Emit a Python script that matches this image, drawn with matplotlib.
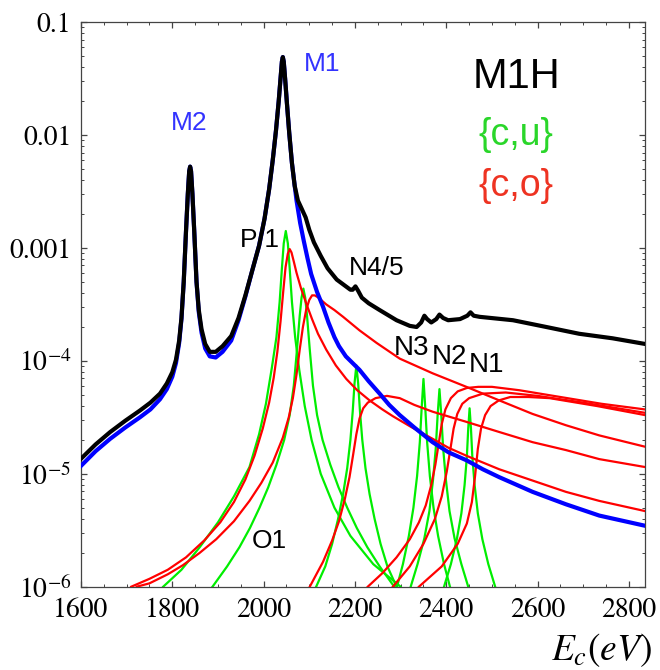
import numpy as np
import matplotlib.pyplot as plt
from matplotlib.ticker import MultipleLocator, LogLocator, NullFormatter

plt.rcParams['mathtext.fontset'] = 'stix'
plt.rcParams['font.family'] = ['Liberation Sans', 'DejaVu Sans']

# curves: energy (eV) and log10 of the rate

# total (black)
tot_e = [1600, 1632, 1664, 1697, 1729, 1752, 1773, 1788, 1800, 1808, 1815, 1820, 1825, 1830,
         1834, 1837, 1839, 1841, 1844, 1848, 1853, 1858, 1864, 1872, 1882, 1895, 1910, 1929,
         1945, 1960, 1975, 1990, 2002, 2012, 2020, 2027, 2033, 2037, 2040, 2042, 2044, 2047,
         2051, 2056, 2062, 2068, 2075, 2083, 2092, 2100, 2110, 2125, 2140, 2160, 2180, 2190,
         2195, 2201, 2207, 2215, 2230, 2254, 2291, 2320, 2335, 2345, 2352, 2358, 2367, 2378,
         2385, 2393, 2404, 2430, 2446, 2453, 2460, 2473, 2546, 2619, 2691, 2764, 2835]
tot_l = [-4.867, -4.74, -4.63, -4.53, -4.44, -4.37, -4.29, -4.20, -4.10, -3.99, -3.82, -3.62,
         -3.30, -2.85, -2.52, -2.32, -2.28, -2.32, -2.52, -2.85, -3.30, -3.55, -3.72, -3.85,
         -3.92, -3.92, -3.87, -3.78, -3.62, -3.42, -3.20, -2.98, -2.74, -2.48, -2.22, -1.96,
         -1.70, -1.50, -1.35, -1.31, -1.35, -1.50, -1.72, -1.98, -2.25, -2.45, -2.58, -2.65,
         -2.73, -2.84, -2.95, -3.07, -3.18, -3.28, -3.34, -3.37, -3.37, -3.34, -3.38, -3.44,
         -3.49, -3.55, -3.64, -3.69, -3.70, -3.66, -3.60, -3.63, -3.66, -3.63, -3.59, -3.62,
         -3.64, -3.63, -3.60, -3.57, -3.60, -3.61, -3.64, -3.70, -3.76, -3.80, -3.85]

# M1 + M2 only (blue)
m_e = [1600, 1632, 1664, 1697, 1729, 1752, 1773, 1788, 1800, 1808, 1815, 1820, 1825, 1830,
       1834, 1837, 1839, 1841, 1844, 1848, 1853, 1858, 1864, 1872, 1882, 1895, 1910, 1929,
       1945, 1960, 1975, 1990, 2002, 2012, 2020, 2027, 2033, 2037, 2040, 2042, 2044, 2047,
       2051, 2056, 2062, 2068, 2072, 2080, 2088, 2096, 2104, 2117, 2130, 2142, 2155, 2165,
       2180, 2195, 2210, 2230, 2254, 2275, 2298, 2330, 2370, 2405, 2444, 2480, 2516, 2589,
       2662, 2735, 2835]
m_l = [-4.93, -4.80, -4.69, -4.59, -4.50, -4.43, -4.34, -4.25, -4.14, -4.02, -3.84, -3.63,
       -3.30, -2.85, -2.52, -2.32, -2.28, -2.32, -2.52, -2.85, -3.30, -3.57, -3.75, -3.89,
       -3.96, -3.97, -3.92, -3.82, -3.64, -3.43, -3.20, -2.98, -2.74, -2.48, -2.22, -1.96,
       -1.70, -1.50, -1.35, -1.31, -1.35, -1.50, -1.72, -1.98, -2.25, -2.45, -2.58, -2.78,
       -2.94, -3.09, -3.23, -3.39, -3.52, -3.66, -3.79, -3.87, -3.96, -4.02, -4.08, -4.18,
       -4.29, -4.39, -4.48, -4.59, -4.72, -4.81, -4.88, -4.96, -5.03, -5.16, -5.27, -5.37, -5.46]

# {c,u} peaks (green)
gp1_e = [1780, 1820, 1860, 1900, 1935, 1969, 1990, 2005, 2018, 2028, 2035, 2040, 2044, 2048.5,
         2053, 2057, 2062, 2069, 2078, 2090, 2105, 2125, 2155, 2190, 2240, 2300]
gp1_l = [-6.0, -5.85, -5.65, -5.43, -5.20, -4.94, -4.65, -4.38, -4.06, -3.79, -3.48, -3.18,
         -2.96, -2.85, -2.96, -3.18, -3.48, -3.79, -4.08, -4.40, -4.70, -5.0, -5.30, -5.55,
         -5.80, -6.0]
go1_e = [1888, 1920, 1947, 1970, 1991, 2010, 2028, 2045, 2057, 2066, 2073, 2079, 2083, 2087,
         2091, 2095, 2101, 2108, 2117, 2129, 2146, 2164, 2183, 2204, 2227, 2254, 2286]
go1_l = [-6.0, -5.82, -5.65, -5.48, -5.30, -5.12, -4.92, -4.70, -4.48, -4.22, -3.90, -3.60,
         -3.44, -3.36, -3.44, -3.60, -3.90, -4.22, -4.48, -4.70, -4.92, -5.12, -5.30, -5.48,
         -5.65, -5.82, -6.0]
gn45_e = [2115, 2135, 2150, 2163, 2174, 2183, 2190, 2195, 2199, 2203, 2207, 2211, 2216, 2223,
          2232, 2243, 2256, 2271, 2291]
gn45_l = [-6.0, -5.82, -5.62, -5.40, -5.18, -4.95, -4.70, -4.45, -4.20, -4.04, -4.20, -4.45,
          -4.70, -4.95, -5.18, -5.40, -5.62, -5.82, -6.0]
gn3_e = [2292, 2305, 2318, 2328, 2336, 2342, 2346, 2350, 2354, 2358, 2364, 2372, 2382, 2395, 2408]
gn3_l = [-6.0, -5.80, -5.55, -5.30, -5.02, -4.72, -4.42, -4.16, -4.42, -4.72, -5.02, -5.30,
         -5.55, -5.80, -6.0]
gn2_e = [2322, 2337, 2352, 2363, 2371, 2377, 2381, 2385, 2389, 2393, 2399, 2407, 2418, 2433, 2448]
gn2_l = [-6.0, -5.80, -5.57, -5.33, -5.05, -4.77, -4.48, -4.25, -4.48, -4.77, -5.05, -5.33,
         -5.57, -5.80, -6.0]
gn1_e = [2395, 2410, 2423, 2433, 2440, 2445, 2448, 2451, 2454, 2457, 2462, 2469, 2479, 2492, 2507]
gn1_l = [-6.0, -5.80, -5.58, -5.35, -5.10, -4.85, -4.60, -4.42, -4.60, -4.85, -5.10, -5.35,
         -5.58, -5.80, -6.0]

# {c,o} curves (red)
rp1_e = [1710, 1750, 1790, 1830, 1870, 1905, 1935, 1960, 1980, 1998, 2012, 2022, 2030, 2037,
         2043, 2048, 2053, 2057, 2061, 2066, 2072, 2082, 2094, 2106, 2119, 2137, 2158, 2181,
         2205, 2232, 2260, 2283, 2325, 2370, 2405, 2444, 2480, 2516, 2589, 2662, 2735, 2835]
rp1_l = [-6.0, -5.93, -5.85, -5.74, -5.59, -5.43, -5.25, -5.05, -4.84, -4.60, -4.37, -4.15,
         -3.92, -3.65, -3.38, -3.17, -3.05, -3.01, -3.04, -3.12, -3.22, -3.36, -3.50, -3.63,
         -3.76, -3.90, -4.04, -4.16, -4.26, -4.35, -4.43, -4.49, -4.59, -4.69, -4.77, -4.84,
         -4.90, -4.96, -5.06, -5.16, -5.24, -5.33]
ro1_e = [1722, 1750, 1790, 1823, 1860, 1896, 1935, 1969, 1995, 2020, 2042, 2055, 2064, 2072,
         2079, 2086, 2093, 2100, 2106, 2112, 2120, 2137, 2155, 2174, 2210, 2247, 2298, 2370,
         2444, 2516, 2589, 2662, 2735, 2835]
ro1_l = [-6.0, -5.97, -5.89, -5.81, -5.70, -5.58, -5.42, -5.24, -5.08, -4.90, -4.68, -4.50,
         -4.33, -4.12, -3.90, -3.70, -3.55, -3.46, -3.42, -3.42, -3.44, -3.50, -3.55, -3.61,
         -3.73, -3.84, -3.98, -4.11, -4.23, -4.35, -4.47, -4.57, -4.66, -4.76]
rn45_e = [2101, 2130, 2150, 2165, 2178, 2188, 2196, 2203, 2210, 2218, 2228, 2245, 2270, 2298,
          2330, 2370, 2444, 2516, 2589, 2662, 2735, 2835]
rn45_l = [-6.0, -5.78, -5.59, -5.42, -5.22, -5.03, -4.83, -4.65, -4.51, -4.42, -4.37, -4.33,
          -4.31, -4.33, -4.39, -4.45, -4.54, -4.63, -4.72, -4.79, -4.87, -4.94]
rn3_e = [2228, 2260, 2291, 2320, 2340, 2355, 2367, 2376, 2383, 2390, 2398, 2410, 2425, 2445,
         2470, 2500, 2560, 2650, 2740, 2835]
rn3_l = [-6.0, -5.88, -5.74, -5.58, -5.43, -5.28, -5.10, -4.92, -4.74, -4.56, -4.43, -4.33,
         -4.27, -4.24, -4.23, -4.23, -4.26, -4.32, -4.38, -4.43]
rn2_e = [2283, 2320, 2350, 2375, 2390, 2401, 2409, 2416, 2424, 2435, 2450, 2480, 2530, 2600,
         2700, 2835]
rn2_l = [-6.0, -5.82, -5.62, -5.40, -5.20, -4.98, -4.78, -4.60, -4.47, -4.38, -4.33, -4.29,
         -4.28, -4.31, -4.37, -4.46]
rn1_e = [2340, 2390, 2425, 2445, 2456, 2463, 2469, 2476, 2485, 2497, 2515, 2540, 2580, 2626,
         2730, 2835]
rn1_l = [-6.0, -5.82, -5.62, -5.44, -5.25, -5.02, -4.78, -4.60, -4.48, -4.40, -4.35, -4.32,
         -4.32, -4.33, -4.40, -4.48]

x_ticks = [1600, 1800, 2000, 2200, 2400, 2600, 2800]
y_ticks = [1e-6, 1e-5, 1e-4, 1e-3, 1e-2, 1e-1]
y_labels = ['$10^{-6}$', '$10^{-5}$', '$10^{-4}$', '0.001', '0.01', '0.1']

fig = plt.figure(figsize=(6.6, 6.7), dpi=100)
ax = fig.add_axes([0.1227, 0.1243, 0.8545, 0.8427])

green = '#00ee00'
red = '#ff0000'
for e, l in [(gp1_e, gp1_l), (go1_e, go1_l), (gn45_e, gn45_l), (gn3_e, gn3_l),
             (gn2_e, gn2_l), (gn1_e, gn1_l)]:
    ax.plot(e, 10 ** np.array(l), color=green, lw=1.6, zorder=2)
for e, l in [(rp1_e, rp1_l), (ro1_e, ro1_l), (rn45_e, rn45_l), (rn3_e, rn3_l),
             (rn2_e, rn2_l), (rn1_e, rn1_l)]:
    ax.plot(e, 10 ** np.array(l), color=red, lw=1.6, zorder=3)
ax.plot(m_e, 10 ** np.array(m_l), color='#0000ff', lw=3.0, zorder=4)
ax.plot(tot_e, 10 ** np.array(tot_l), color='black', lw=3.0, zorder=5)

ax.set_yscale('log')
ax.set_xlim(1600, 2835)
ax.set_ylim(1e-6, 0.1)

ax.set_xticks(x_ticks)
ax.set_xticklabels([str(v) for v in x_ticks], fontfamily='STIXGeneral', fontsize=20)
ax.set_yticks(y_ticks)
ax.set_yticklabels(y_labels, fontfamily='STIXGeneral', fontsize=20)
ax.xaxis.set_minor_locator(MultipleLocator(50))
ax.yaxis.set_minor_locator(LogLocator(base=10, subs=np.arange(2, 10)))
ax.yaxis.set_minor_formatter(NullFormatter())
ax.tick_params(which='both', direction='in', top=True, right=True, color='#444444')
ax.tick_params(which='major', length=4.5, width=0.9)
ax.tick_params(which='minor', length=2.5, width=0.7)
ax.tick_params(axis='x', pad=8)
ax.tick_params(axis='y', pad=7)
for s in ax.spines.values():
    s.set_color('#444444')
    s.set_linewidth(0.9)

# peak labels
ax.text(1838, 0.0129, 'M2', color='#3333ff', fontsize=19, ha='center', va='center')
ax.text(2127, 0.0423, 'M1', color='#3333ff', fontsize=19, ha='center', va='center')
ax.text(1992, 10 ** -2.928, 'P 1', fontsize=19, ha='center', va='center', zorder=1)
ax.text(2247, 10 ** -3.177, 'N4/5', fontsize=19, ha='center', va='center')
ax.text(2324, 10 ** -3.887, 'N3', fontsize=20, ha='center', va='center')
ax.text(2407, 10 ** -3.967, 'N2', fontsize=20, ha='center', va='center')
ax.text(2488, 10 ** -4.037, 'N1', fontsize=20, ha='center', va='center')
ax.text(2013, 10 ** -5.594, 'O1', fontsize=19, ha='center', va='center')

ax.text(0.773, 0.903, 'M1H', fontsize=30, ha='center', va='center', transform=ax.transAxes)
ax.text(0.771, 0.800, '{c,u}', fontsize=27, color='#2ad62a', ha='center', va='center',
        transform=ax.transAxes)
ax.text(0.771, 0.709, '{c,o}', fontsize=27, color='#ee3322', ha='center', va='center',
        transform=ax.transAxes)

fig.text(0.911, 0.029, '$E_c(eV)$', fontsize=27, ha='center', va='center')

plt.savefig('out.png', dpi=100)
